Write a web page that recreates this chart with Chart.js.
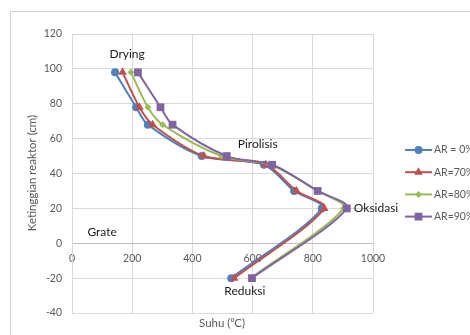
<!DOCTYPE html>
<html>
<head>
<meta charset="utf-8">
<script src="https://cdn.jsdelivr.net/npm/chart.js@4.4.0/dist/chart.umd.min.js"></script>
<style>
  html, body { margin: 0; padding: 0; background: #fff; overflow: hidden; }
  #frame { position: absolute; left: 10px; top: 11px; width: 600px; height: 400px; border: 1px solid #d0d0d0; }
  #wrap { position: absolute; left: 0; top: 0; width: 470px; height: 335px; }
</style>
</head>
<body>
<div id="frame"></div>
<div id="wrap"><canvas id="chart" width="470" height="335"></canvas></div>
<script>
// heights along the reactor (cm)
const heights = [98, 78, 68, 50, 45, 30, 20, -20];

// temperature (C) per series at each height
const ar0  = [143, 213, 252, 431, 638, 738, 830, 529];
const ar70 = [168, 224, 268, 438, 644, 746, 838, 539];
const ar80 = [196, 252, 301, 496, 660, 816, 902, 594];
const ar90 = [219, 294, 334, 514, 665, 816, 913, 598];

const seriesNames = ['AR = 0%', 'AR=70%', 'AR=80%', 'AR=90%'];

const xTicks = [0, 200, 400, 600, 800, 1000];
const yTicks = [-40, -20, 0, 20, 40, 60, 80, 100, 120];

// zone labels placed in data units
const zoneNames = ['Drying', 'Pirolisis', 'Oksidasi', 'Grate', 'Reduksi'];
const zoneX = [183, 617, 1010, 100, 574];
const zoneY = [108.7, 57, 20.2, 6.3, -27.7];

const colors = ['#4F81BD', '#C0504D', '#9BBB59', '#8064A2'];
const markers = [
  { style: 'circle', r: 4 },
  { style: 'triangle', r: 5 },
  { style: 'rectRot', r: 3.5 },
  { style: 'rect', r: 5.5 }
];

function toPoints(temps) {
  return temps.map((t, i) => ({ x: t, y: heights[i] }));
}

const allSeries = [ar0, ar70, ar80, ar90];
const datasets = allSeries.map((s, i) => ({
  label: seriesNames[i],
  data: toPoints(s),
  showLine: true,
  borderColor: colors[i],
  backgroundColor: colors[i],
  borderWidth: 2,
  tension: 0.3,
  pointStyle: markers[i].style,
  pointRadius: markers[i].r,
  pointBorderWidth: 0,
  order: 4 - i
}));

const overlay = {
  id: 'overlay',
  afterDatasetsDraw(chart) {
    const ctx = chart.ctx;
    const xs = chart.scales.x, ys = chart.scales.y;
    ctx.save();
    ctx.fillStyle = '#1a1a1a';
    ctx.font = '12px Lato';
    ctx.textAlign = 'center';
    ctx.textBaseline = 'middle';
    zoneNames.forEach((name, i) => {
      ctx.fillText(name, xs.getPixelForValue(zoneX[i]), ys.getPixelForValue(zoneY[i]));
    });

    // axis titles
    ctx.fillStyle = '#595959';
    ctx.font = '11.5px Lato';
    ctx.fillText('Suhu (\u2070C)', 222, 323);
    ctx.translate(32, 173);
    ctx.rotate(-Math.PI / 2);
    ctx.fillText('Ketinggian reaktor (cm)', 0, 0);
    ctx.restore();

    // legend
    ctx.save();
    ctx.font = '10.5px Lato';
    ctx.textBaseline = 'middle';
    ctx.textAlign = 'left';
    chart.data.datasets.forEach((ds, i) => {
      const y = 150 + i * 22.2;
      ctx.strokeStyle = ds.borderColor;
      ctx.lineWidth = 2;
      ctx.beginPath();
      ctx.moveTo(405, y);
      ctx.lineTo(432, y);
      ctx.stroke();
      ctx.fillStyle = ds.backgroundColor;
      Chart.helpers.drawPoint(ctx, { pointStyle: ds.pointStyle, radius: ds.pointRadius, borderWidth: 0, rotation: 0 }, 418.5, y);
      ctx.fillStyle = '#595959';
      ctx.fillText(ds.label, 434, y);
    });
    ctx.restore();
  }
};

new Chart(document.getElementById('chart'), {
  type: 'scatter',
  data: { datasets: datasets },
  options: {
    responsive: false,
    animation: false,
    layout: { padding: { top: 34, right: 97, bottom: 22, left: 0 } },
    plugins: { legend: { display: false }, tooltip: { enabled: false } },
    scales: {
      x: {
        type: 'linear',
        position: { y: 0 },
        min: 0, max: 1000,
        afterBuildTicks: (s) => { s.ticks = xTicks.map(v => ({ value: v })); },
        ticks: { color: '#595959', font: { family: 'Lato', size: 10.5 }, padding: 9, callback: (v) => String(v) },
        grid: { color: '#d9d9d9', drawTicks: false },
        border: { color: '#bfbfbf' }
      },
      y: {
        type: 'linear',
        min: -40, max: 120,
        afterBuildTicks: (s) => { s.ticks = yTicks.map(v => ({ value: v })); },
        afterFit: (s) => { s.width = 72; },
        ticks: { color: '#595959', font: { family: 'Lato', size: 10.5 }, padding: 10, callback: (v) => String(v) },
        grid: { color: '#d9d9d9', drawTicks: false },
        border: { color: '#d9d9d9' }
      }
    }
  },
  plugins: [overlay]
});
</script>
</body>
</html>
